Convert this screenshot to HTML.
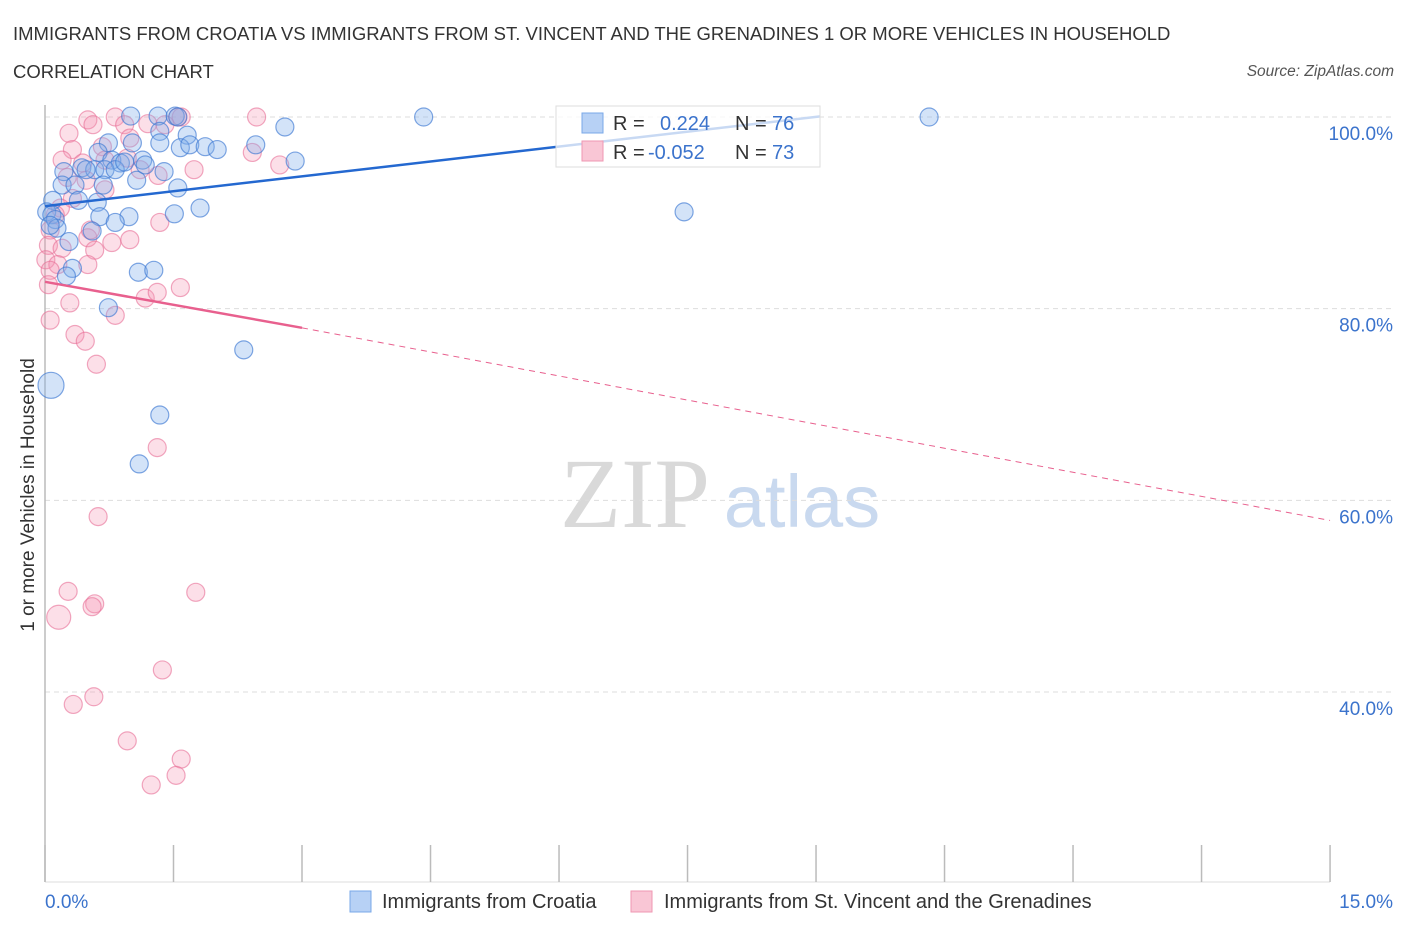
<!DOCTYPE html>
<html><head><meta charset="utf-8"><style>
body{margin:0;background:#fff;font-family:"Liberation Sans",sans-serif;}
</style></head><body>
<svg id="chart" width="1406" height="930" viewBox="0 0 1406 930" xmlns="http://www.w3.org/2000/svg" font-family="Liberation Sans, sans-serif">
<text x="13" y="40" font-size="18.5" fill="#333">IMMIGRANTS FROM CROATIA VS IMMIGRANTS FROM ST. VINCENT AND THE GRENADINES 1 OR MORE VEHICLES IN HOUSEHOLD</text>
<text x="13" y="78" font-size="18.5" fill="#333">CORRELATION CHART</text>
<text x="1394" y="76" font-size="15.5" fill="#555" font-style="italic" text-anchor="end">Source: ZipAtlas.com</text>
<g>
<text x="635" y="527" font-size="100" fill="#d9d9d9" style="font-family:'Liberation Serif',serif" text-anchor="middle">ZIP</text>
<text x="802" y="527" font-size="74" fill="#c9d9ef" text-anchor="middle">atlas</text>
</g>
<g id="grid"></g>
<g id="axes"></g>
<g id="points"></g>
<g id="trends"></g>
<text transform="translate(34,495) rotate(-90)" font-size="19" fill="#333" text-anchor="middle">1 or more Vehicles in Household</text>
<g>
<rect x="556" y="106" width="264" height="61" fill="rgba(255,255,255,0.75)" stroke="#ddd"/>
<rect x="582" y="113" width="21" height="20" fill="#b7d1f5" stroke="#7aa8e8"/>
<rect x="582" y="141" width="21" height="20" fill="#f9c6d5" stroke="#ef97b2"/>
<text x="613" y="130" font-size="20" fill="#333">R =</text>
<text x="660" y="130" font-size="20" fill="#3b73cc">0.224</text>
<text x="735" y="130" font-size="20" fill="#333">N =</text>
<text x="772" y="130" font-size="20" fill="#3b73cc">76</text>
<text x="613" y="159" font-size="20" fill="#333">R =</text>
<text x="648" y="159" font-size="20" fill="#3b73cc">-0.052</text>
<text x="735" y="159" font-size="20" fill="#333">N =</text>
<text x="772" y="159" font-size="20" fill="#3b73cc">73</text>
</g>
<g>
<rect x="350" y="891" width="21" height="21" fill="#b7d1f5" stroke="#7aa8e8"/>
<text x="382" y="908" font-size="20" fill="#333">Immigrants from Croatia</text>
<rect x="631" y="891" width="21" height="21" fill="#f9c6d5" stroke="#ef97b2"/>
<text x="664" y="908" font-size="20" fill="#333">Immigrants from St. Vincent and the Grenadines</text>
</g>
</svg>
<script>
const yTicks=[100,80,60,40];
const yTickLabels=["100.0%","80.0%","60.0%","40.0%"];
const xTicks=[0,1.5,3,4.5,6,7.5,9,10.5,12,13.5,15];
const xTickLabels=["0.0%","15.0%"];
const croatiaX=[1.00,1.32,1.52,1.55,4.42,10.32,2.80,1.34,1.66,0.74,1.02,1.34,1.58,1.69,1.87,2.01,2.46,0.62,0.43,0.78,0.88,1.14,2.92,0.58,0.70,0.22,1.07,0.20,0.35,0.68,1.55,0.09,0.39,0.61,1.81,1.51,0.98,0.64,0.82,0.02,0.08,0.12,0.14,0.55,0.28,0.32,0.25,1.09,1.27,0.74,2.32,0.07,1.34,1.10,7.46,1.39,0.48,0.82,1.17,0.93,0.06];
const croatiaY=[100.1,100.1,100.1,100,100,100,98.96,98.5,98.1,97.3,97.3,97.3,96.8,97.1,96.9,96.6,97.1,96.3,94.7,95.5,95.2,95.5,95.4,94.5,94.5,94.3,93.4,92.9,92.9,92.9,92.6,91.3,91.3,91.1,90.5,89.9,89.6,89.6,89.0,90.1,89.8,89.3,88.4,88.1,87.0,84.2,83.4,83.8,84.0,80.1,75.7,72.0,68.9,63.8,90.1,94.3,94.5,94.5,95.0,95.3,88.7];
const croatiaBig=[51];
const vincentX=[0.82,1.55,1.59,2.47,0.50,0.56,0.28,0.93,1.20,0.99,0.67,0.32,0.20,0.44,0.96,1.32,1.74,2.42,2.74,0.26,0.48,0.70,0.32,0.18,0.06,0.04,0.01,0.20,0.15,0.50,0.58,0.78,0.99,0.50,0.06,0.04,0.29,1.17,1.31,1.58,0.06,0.35,0.47,0.82,0.60,1.34,1.31,0.62,0.27,0.58,0.55,1.76,0.16,1.37,0.33,0.57,0.96,1.59,1.53,1.24,0.53,0.70,1.11,1.40,0.12];
const vincentY=[100,100,100,100,99.7,99.2,98.3,99.2,99.3,97.8,96.9,96.6,95.5,95.2,95.7,93.9,94.5,96.3,95.0,93.7,93.4,92.4,91.5,90.5,88.2,86.6,85.1,86.3,84.6,87.4,86.1,86.9,87.2,84.6,84.0,82.5,80.6,81.1,81.7,82.2,78.8,77.3,76.6,79.3,74.2,89.0,65.5,58.3,50.5,49.2,48.9,50.4,47.8,42.3,38.7,39.5,34.9,33.0,31.3,30.3,88.2,95.5,94.5,99.2,89.8];
const vincentBig=[52];
const croatiaTrend=[0,90.7,9.05,100.07];
const vincentTrend=[0,82.8,3.0,78.0,15,57.9];

const NS="http://www.w3.org/2000/svg";
const X=v=>45+v*85.67;
const Y=v=>117+(100-v)*9.583;
function mk(tag,attrs,parent){const e=document.createElementNS(NS,tag);for(const k in attrs)e.setAttribute(k,attrs[k]);parent.appendChild(e);return e;}
const grid=document.getElementById('grid'),axes=document.getElementById('axes'),pts=document.getElementById('points'),tr=document.getElementById('trends');
yTicks.forEach((t,i)=>{
 const l=mk('line',{x1:45,x2:1395,y1:Y(t),y2:Y(t),stroke:'#ddd','stroke-dasharray':'5,4'},grid);
 
 
 const tx=mk('text',{x:1393,y:Y(t)+23,'font-size':19,fill:'#3b73cc','text-anchor':'end'},grid);
 tx.textContent=yTickLabels[i];
 
 
});
const ya=mk('line',{x1:45,x2:45,y1:105,y2:882,stroke:'#bbb','stroke-width':1.5},axes);


const xa=mk('line',{x1:45,x2:1330,y1:882,y2:882,stroke:'#ddd'},axes);


xTicks.forEach(t=>{
 const l=mk('line',{x1:X(t),x2:X(t),y1:845,y2:882,stroke:'#bbb','stroke-width':1.5},axes);
 
 
});
const xl0=mk('text',{x:45,y:908,'font-size':19,fill:'#3b73cc'},axes);xl0.textContent=xTickLabels[0];


const xl1=mk('text',{x:1393,y:908,'font-size':19,fill:'#3b73cc','text-anchor':'end'},axes);xl1.textContent=xTickLabels[1];


vincentX.forEach((v,i)=>{
 const c=mk('circle',{cx:X(v),cy:Y(vincentY[i]),r:vincentBig.includes(i)?12:9,fill:'rgba(244,150,180,0.3)',stroke:'rgba(232,110,150,0.6)','stroke-width':1.2},pts);
 
 
});
croatiaX.forEach((v,i)=>{
 const c=mk('circle',{cx:X(v),cy:Y(croatiaY[i]),r:croatiaBig.includes(i)?13:9,fill:'rgba(130,175,235,0.35)',stroke:'rgba(60,120,210,0.65)','stroke-width':1.2},pts);
 
 
});
const bl=mk('line',{x1:X(croatiaTrend[0]),y1:Y(croatiaTrend[1]),x2:X(croatiaTrend[2]),y2:Y(croatiaTrend[3]),stroke:'#2468d0','stroke-width':2.5},tr);


const pl=mk('line',{x1:X(vincentTrend[0]),y1:Y(vincentTrend[1]),x2:X(vincentTrend[2]),y2:Y(vincentTrend[3]),stroke:'#e8608e','stroke-width':2.5},tr);


const pd=mk('line',{x1:X(vincentTrend[2]),y1:Y(vincentTrend[3]),x2:X(vincentTrend[4]),y2:Y(vincentTrend[5]),stroke:'#e8608e','stroke-width':1,'stroke-dasharray':'6,5'},tr);


</script>
</body></html>
